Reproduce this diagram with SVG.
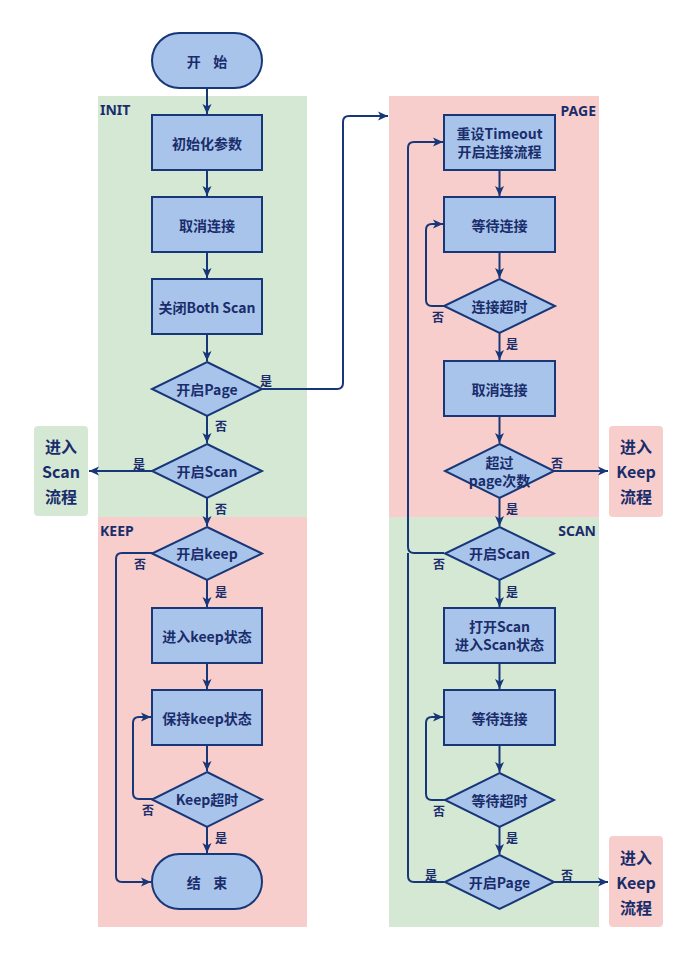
<svg xmlns="http://www.w3.org/2000/svg" width="696" height="970" viewBox="0 0 696 970">
<style>
.bg-g{fill:#d5e8d4}
.bg-p{fill:#f8cecc}
.node{fill:#a9c4eb;stroke:#173778;stroke-width:2}
.t{font-family:"Noto Sans CJK SC","Noto Sans",sans-serif;font-weight:bold;font-size:14px;fill:#1a2d6b;text-anchor:middle;dominant-baseline:central}
.lbl{font-family:"Noto Sans CJK SC","Noto Sans",sans-serif;font-weight:bold;font-size:12px;fill:#1a2d6b;text-anchor:middle;dominant-baseline:central}
.sec{font-family:"Noto Sans","Noto Sans CJK SC",sans-serif;font-weight:bold;font-size:14px;fill:#1a2d6b;dominant-baseline:central}
.big{font-family:"Noto Sans CJK SC","Noto Sans",sans-serif;font-weight:bold;font-size:16px;fill:#1a2d6b;text-anchor:middle;dominant-baseline:central}
.c{fill:none;stroke:#173778;stroke-width:2;marker-end:url(#ah)}
.cn{fill:none;stroke:#173778;stroke-width:2}
</style>
<defs>
<marker id="ah" markerUnits="userSpaceOnUse" markerWidth="12" markerHeight="12" refX="11" refY="6" orient="auto">
<path d="M1,1.5 L11,6 L1,10.5 L3.5,6 z" fill="#173778"/>
</marker>
</defs>
<g id="backgrounds">
<rect class="bg-g" x="98" y="96" width="209" height="421"/>
<rect class="bg-p" x="98" y="517" width="209" height="410"/>
<rect class="bg-p" x="389" y="96" width="210" height="421"/>
<rect class="bg-g" x="389" y="517" width="210" height="410"/>
<text class="sec" x="100" y="109">INIT</text>
<text class="sec" x="596" y="110" text-anchor="end">PAGE</text>
<text class="sec" x="100" y="530">KEEP</text>
<text class="sec" x="596" y="530" text-anchor="end">SCAN</text>
</g>
<g id="connectors">
<path class="c" d="M207,88 V114"/>
<path class="c" d="M207,170 V196"/>
<path class="c" d="M207,252 V278"/>
<path class="c" d="M207,334 V361"/>
<path class="c" d="M207,416 V443"/>
<path class="c" d="M207,498 V526"/>
<path class="c" d="M153,471 H89"/>
<path class="c" d="M262,389 H337 Q343,389 343,383 V122 Q343,116 349,116 H388"/>
<path class="c" d="M207,580 V607"/>
<path class="c" d="M207,663 V689"/>
<path class="c" d="M207,745 V771"/>
<path class="c" d="M207,827 V853"/>
<path class="c" d="M153,799 H139 Q133,799 133,793 V723 Q133,717 139,717 H151"/>
<path class="c" d="M153,553 H122 Q116,553 116,559 V876 Q116,882 122,882 H151"/>
<path class="c" d="M499.5,170 V196"/>
<path class="c" d="M499.5,252 V278"/>
<path class="c" d="M445,306 H432 Q426,306 426,300 V230 Q426,224 432,224 H443"/>
<path class="c" d="M499.5,333 V360"/>
<path class="c" d="M499.5,416 V443"/>
<path class="c" d="M554,471 H608"/>
<path class="c" d="M499.5,498 V526"/>
<path class="c" d="M444,553 H414 Q408,553 408,547 V148 Q408,142 414,142 H443"/>
<path class="c" d="M499.5,580 V607"/>
<path class="c" d="M499.5,663 V689"/>
<path class="c" d="M499.5,745 V772"/>
<path class="c" d="M445,800 H432 Q426,800 426,794 V723 Q426,717 432,717 H443"/>
<path class="c" d="M499.5,827 V854"/>
<path class="cn" d="M444,882 H414 Q408,882 408,876 V553"/>
<path class="c" d="M554,882 H608"/>
<text class="lbl" x="266" y="380">是</text>
<text class="lbl" x="221" y="425">否</text>
<text class="lbl" x="139" y="463">是</text>
<text class="lbl" x="221" y="508">否</text>
<text class="lbl" x="140" y="563">否</text>
<text class="lbl" x="221" y="591">是</text>
<text class="lbl" x="148" y="809">否</text>
<text class="lbl" x="221" y="837">是</text>
<text class="lbl" x="438" y="316">否</text>
<text class="lbl" x="512" y="343">是</text>
<text class="lbl" x="557" y="462">否</text>
<text class="lbl" x="512" y="508">是</text>
<text class="lbl" x="439" y="563">否</text>
<text class="lbl" x="512" y="591">是</text>
<text class="lbl" x="439" y="810">否</text>
<text class="lbl" x="512" y="837">是</text>
<text class="lbl" x="431" y="874">是</text>
<text class="lbl" x="567" y="874">否</text>
</g>
<g id="start"><rect class="node" x="152" y="33" width="110" height="55" rx="27.5"/><text class="t" x="207" y="60.5" xml:space="preserve">开    始</text></g>
<g id="init-params"><rect class="node" x="152" y="115" width="110" height="55"/><text class="t" x="207" y="142.5">初始化参数</text></g>
<g id="cancel-conn-1"><rect class="node" x="152" y="197" width="110" height="55"/><text class="t" x="207" y="224.5">取消连接</text></g>
<g id="close-both-scan"><rect class="node" x="152" y="279" width="110" height="55"/><text class="t" x="207" y="306.5">关闭Both Scan</text></g>
<g id="dec-page-1"><path class="node" d="M207,362 L262,389 L207,416 L152,389 Z"/><text class="t" x="207" y="389">开启Page</text></g>
<g id="dec-scan-1"><path class="node" d="M207,444 L262,471 L207,498 L152,471 Z"/><text class="t" x="207" y="471">开启Scan</text></g>
<g id="enter-scan"><rect x="34" y="426" width="54" height="90" rx="4" fill="#d5e8d4"/><text class="big" x="61" y="446">进入</text><text class="big" x="61" y="471">Scan</text><text class="big" x="61" y="496">流程</text></g>
<g id="dec-keep"><path class="node" d="M207,527 L262,553.5 L207,580 L152,553.5 Z"/><text class="t" x="207" y="553">开启keep</text></g>
<g id="enter-keep-state"><rect class="node" x="152" y="608" width="110" height="55"/><text class="t" x="207" y="635.5">进入keep状态</text></g>
<g id="hold-keep-state"><rect class="node" x="152" y="690" width="110" height="55"/><text class="t" x="207" y="717.5">保持keep状态</text></g>
<g id="dec-keep-timeout"><path class="node" d="M207,772 L262,799.5 L207,827 L152,799.5 Z"/><text class="t" x="207" y="799">Keep超时</text></g>
<g id="end"><rect class="node" x="152" y="854" width="110" height="55" rx="27.5"/><text class="t" x="207" y="881.5" xml:space="preserve">结    束</text></g>
<g id="reset-timeout"><rect class="node" x="444" y="115" width="111" height="55"/><text class="t" x="499.5" y="133">重设Timeout</text><text class="t" x="499.5" y="151">开启连接流程</text></g>
<g id="wait-conn-1"><rect class="node" x="444" y="197" width="111" height="55"/><text class="t" x="499.5" y="224.5">等待连接</text></g>
<g id="dec-conn-timeout"><path class="node" d="M499.5,279 L555,306 L499.5,333 L444,306 Z"/><text class="t" x="499.5" y="306">连接超时</text></g>
<g id="cancel-conn-2"><rect class="node" x="444" y="361" width="111" height="55"/><text class="t" x="499.5" y="388.5">取消连接</text></g>
<g id="dec-page-count"><path class="node" d="M499.5,444 L554,471 L499.5,498 L445,471 Z"/><text class="t" x="499.5" y="462">超过</text><text class="t" x="499.5" y="480">page次数</text></g>
<g id="enter-keep-1"><rect x="609" y="426" width="54" height="91" rx="4" fill="#f8cecc"/><text class="big" x="636" y="446">进入</text><text class="big" x="636" y="471">Keep</text><text class="big" x="636" y="496">流程</text></g>
<g id="dec-scan-2"><path class="node" d="M499.5,527 L554,553.5 L499.5,580 L445,553.5 Z"/><text class="t" x="499.5" y="553">开启Scan</text></g>
<g id="open-scan"><rect class="node" x="444" y="608" width="111" height="55"/><text class="t" x="499.5" y="626">打开Scan</text><text class="t" x="499.5" y="644">进入Scan状态</text></g>
<g id="wait-conn-2"><rect class="node" x="444" y="690" width="111" height="55"/><text class="t" x="499.5" y="717.5">等待连接</text></g>
<g id="dec-wait-timeout"><path class="node" d="M499.5,773 L554,800 L499.5,827 L445,800 Z"/><text class="t" x="499.5" y="800">等待超时</text></g>
<g id="dec-page-2"><path class="node" d="M499.5,855 L554,882 L499.5,909 L445,882 Z"/><text class="t" x="499.5" y="882">开启Page</text></g>
<g id="enter-keep-2"><rect x="609" y="836" width="54" height="91" rx="4" fill="#f8cecc"/><text class="big" x="636" y="857">进入</text><text class="big" x="636" y="882">Keep</text><text class="big" x="636" y="907">流程</text></g>
</svg>
